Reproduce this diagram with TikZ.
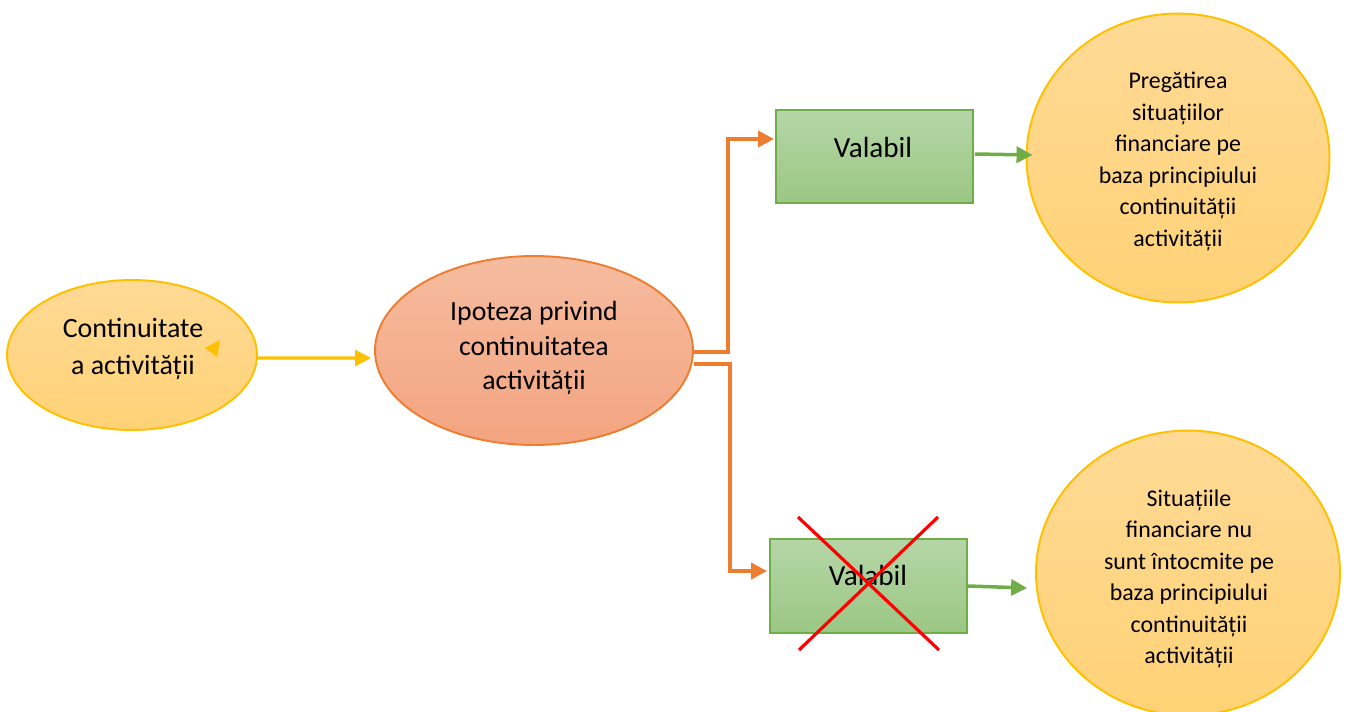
\documentclass[tikz,border=0pt]{standalone}
\usepackage{fontspec}
\setmainfont{Carlito}
\usetikzlibrary{arrows.meta,calc,shapes.geometric}
\definecolor{yelBorder}{HTML}{FFC000}
\definecolor{yelTop}{HTML}{FFDA96}
\definecolor{yelBot}{HTML}{FFD276}
\definecolor{salTop}{HTML}{F5BC9F}
\definecolor{salBot}{HTML}{F4A480}
\definecolor{orangeLine}{HTML}{ED7D31}
\definecolor{grnTop}{HTML}{B5D6A7}
\definecolor{grnBot}{HTML}{9BC784}
\definecolor{grnLine}{HTML}{70AD47}
\definecolor{redX}{HTML}{FF0000}
\begin{document}
\begin{tikzpicture}[x=0.02cm,y=-0.02cm,
  yelshape/.style={ellipse, draw=yelBorder, line width=1.1pt, top color=yelTop, bottom color=yelBot, inner sep=0pt},
  salshape/.style={ellipse, draw=orangeLine, line width=1.1pt, top color=salTop, bottom color=salBot, inner sep=0pt},
  gbox/.style={rectangle, draw=grnLine, line width=1.1pt, top color=grnTop, bottom color=grnBot, inner sep=0pt, minimum width=3.94cm},
  bigtxt/.style={align=center, inner sep=0pt, font=\fontsize{15.8pt}{19.8pt}\selectfont},
  valtxt/.style={align=center, inner sep=0pt, font=\fontsize{16.6pt}{19.8pt}\selectfont},
  lefttxt/.style={align=center, inner sep=0pt, font=\fontsize{15.9pt}{21pt}\selectfont},
  smalltxt/.style={align=center, inner sep=0pt, font=\fontsize{13.6pt}{17.9pt}\selectfont},
  arrowtip/.style={-{Triangle[length=0.32cm,width=0.32cm]}},
  yarr/.style={arrowtip, draw=yelBorder, line width=1.8pt},
  oarr/.style={arrowtip, draw=orangeLine, line width=2.2pt},
  garr/.style={arrowtip, draw=grnLine, line width=2pt},
  redx/.style={draw=redX, line width=1.8pt}
]
\useasboundingbox (0,0) rectangle (1349,711);

% shapes
\node[yelshape, minimum width=5cm, minimum height=3cm] (e1) at (132,355) {};
\node[salshape, minimum width=6.36cm, minimum height=3.78cm] (e2) at (534,350.5) {};
\node[gbox, minimum height=1.86cm] (v1) at (874.5,156.5) {};
\node[gbox, minimum height=1.88cm] (v2) at (868.5,586) {};
\node[yelshape, minimum width=6.06cm, minimum height=5.78cm] (c1) at (1178,158) {};
\node[yelshape, minimum width=6.08cm, minimum height=5.7cm] (c2) at (1188,573) {};

% texts
\node[lefttxt] (t1) at (133,348.5) {Continuitate\\a activității};
\node[bigtxt] (t2) at (534,348) {Ipoteza privind\\continuitatea\\activității};
\node[valtxt] (tv1) at (873,147) {Valabil};
\node[valtxt] (tv2) at (868,575) {Valabil};
\node[smalltxt] (tc1) at (1178,161.5) {Pregătirea\\situațiilor\\financiare pe\\baza principiului\\continuității\\activității};
\node[smalltxt] (tc2) at (1189,579) {Situațiile\\financiare nu\\sunt întocmite pe\\baza principiului\\continuității\\activității};

% small marker inside the left ellipse
\fill[yelBorder] (220,340) -- (205,348) -- (217,357) -- cycle;

% connectors
\draw[yarr] ($(e1.east)+(0,3)$) -- ($(e2.west)+(-3,7.5)$);
\draw[oarr] ($(e2.east)+(0,1.5)$) -- ++(34,0) |- ($(v1.west)+(-1,-17.5)$);
\draw[oarr] ($(e2.east)+(0,13.5)$) -- ++(36,0) |- ($(v2.west)+(-2,-15)$);
\draw[garr] ($(v1.east)+(1,-2.5)$) -- ($(c1.west)+(7,-3)$);
\draw[garr] (v2.east) -- ($(c2.west)+(-8,15)$);

% red cross
\draw[redx] ($(v2.center)+(-70.5,-69)$) -- ($(v2.center)+(70.5,64)$);
\draw[redx] ($(v2.center)+(69.5,-69)$) -- ($(v2.center)+(-69.5,64)$);
\end{tikzpicture}
\end{document}
